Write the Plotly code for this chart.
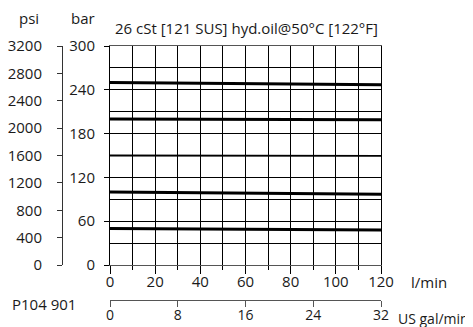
import plotly.graph_objects as go

# ---- data ----
flow_lpm = [0, 60, 120]
p_250 = [250, 249, 247]
p_200 = [200, 199.5, 199]
p_150 = [150, 150, 149.5]
p_100 = [100, 99, 97]
p_50 = [50, 49, 48]

title_text = "26 cSt [121 SUS] hyd.oil@50°C [122°F]"
code_text = "P104 901"

# page body has an 8px margin, so the figure sits at (8, 8)
OFF = 8
W, H = 473 - OFF, 327 - OFF
ML = 62 - OFF
MT = 46 - OFF
MR = 92
MB = 27
PW = W - ML - MR
PH = H - MT - MB


def px(x):  # screen px -> paper
    return (x - (ML + OFF)) / PW


def py(y):  # screen px -> paper
    return ((MT + OFF + PH) - y) / PH


FONT = "Open Sans"
TXT = "#1a1a1a"
FS = 15

fig = go.Figure()
for vals, w in [(p_250, 3), (p_200, 3), (p_150, 1.8), (p_100, 3), (p_50, 3)]:
    fig.add_trace(go.Scatter(x=flow_lpm, y=vals, mode="lines",
                             line=dict(color="black", width=w),
                             showlegend=False, hoverinfo="skip"))
# dummy trace for secondary axes
fig.add_trace(go.Scatter(x=[None], y=[None], xaxis="x2", yaxis="y2",
                         showlegend=False, hoverinfo="skip"))

xd0 = px(110)
yd0 = py(265)

fig.update_layout(
    width=W, height=H,
    margin=dict(l=ML, r=MR, t=MT, b=MB, pad=0),
    paper_bgcolor="white", plot_bgcolor="white",
    font=dict(family=FONT, size=FS, color=TXT),
    xaxis=dict(domain=[xd0, 1], range=[0, 120], anchor="y",
               tick0=0, dtick=20, showgrid=True, gridcolor="black", gridwidth=1,
               minor=dict(dtick=10, showgrid=True, gridcolor="black", gridwidth=1,
                          ticks="outside", ticklen=4, tickcolor="black"),
               ticks="outside", ticklen=8, tickcolor="black", tickwidth=1,
               showline=True, linecolor="#555", linewidth=1, mirror=True,
               zeroline=False, automargin=False, ticklabelstandoff=-5,
               tickfont=dict(size=FS, family=FONT, color=TXT)),
    yaxis=dict(domain=[yd0, 1], range=[0, 300], anchor="x",
               tick0=0, dtick=60, showgrid=True, gridcolor="black", gridwidth=1,
               minor=dict(dtick=30, showgrid=True, gridcolor="black", gridwidth=1),
               ticks="outside", ticklen=5, tickcolor="black", tickwidth=1,
               showline=True, linecolor="black", linewidth=1, mirror=True,
               zeroline=False, automargin=False, ticklabelstandoff=6,
               tickfont=dict(size=FS, family=FONT, color=TXT)),
    yaxis2=dict(overlaying="y", anchor="free", position=0, side="left",
                range=[0, 3200], tick0=0, dtick=400, showgrid=False,
                ticks="outside", ticklen=5, tickcolor="#333", tickwidth=1,
                showline=True, linecolor="#333", linewidth=1,
                zeroline=False, automargin=False, ticklabelstandoff=12,
                tickfont=dict(size=FS, family=FONT, color=TXT)),
    xaxis2=dict(overlaying="x", anchor="free", position=0, side="bottom",
                range=[0, 32], tick0=0, dtick=8, showgrid=False,
                ticks="outside", ticklen=6, tickcolor="#555", tickwidth=1,
                showline=True, linecolor="#555", linewidth=1,
                zeroline=False, automargin=False, ticklabelstandoff=-4,
                tickfont=dict(size=14, family=FONT, color=TXT)),
)

ann = [
    (title_text, 113, 28, "left", FS),
    ("psi", 29, 18, "center", FS),
    ("bar", 83, 18, "center", FS),
    ("l/min", 429, 282, "center", FS),
    ("US gal/min", 433, 318, "center", 14),
    (code_text, 44, 304, "center", FS),
]
for t, x, y, xa, fs in ann:
    fig.add_annotation(text=t, x=px(x), y=py(y), xref="paper", yref="paper",
                       xanchor=xa, yanchor="middle", showarrow=False,
                       font=dict(family=FONT, size=fs, color=TXT))

fig.write_html("out.html")
